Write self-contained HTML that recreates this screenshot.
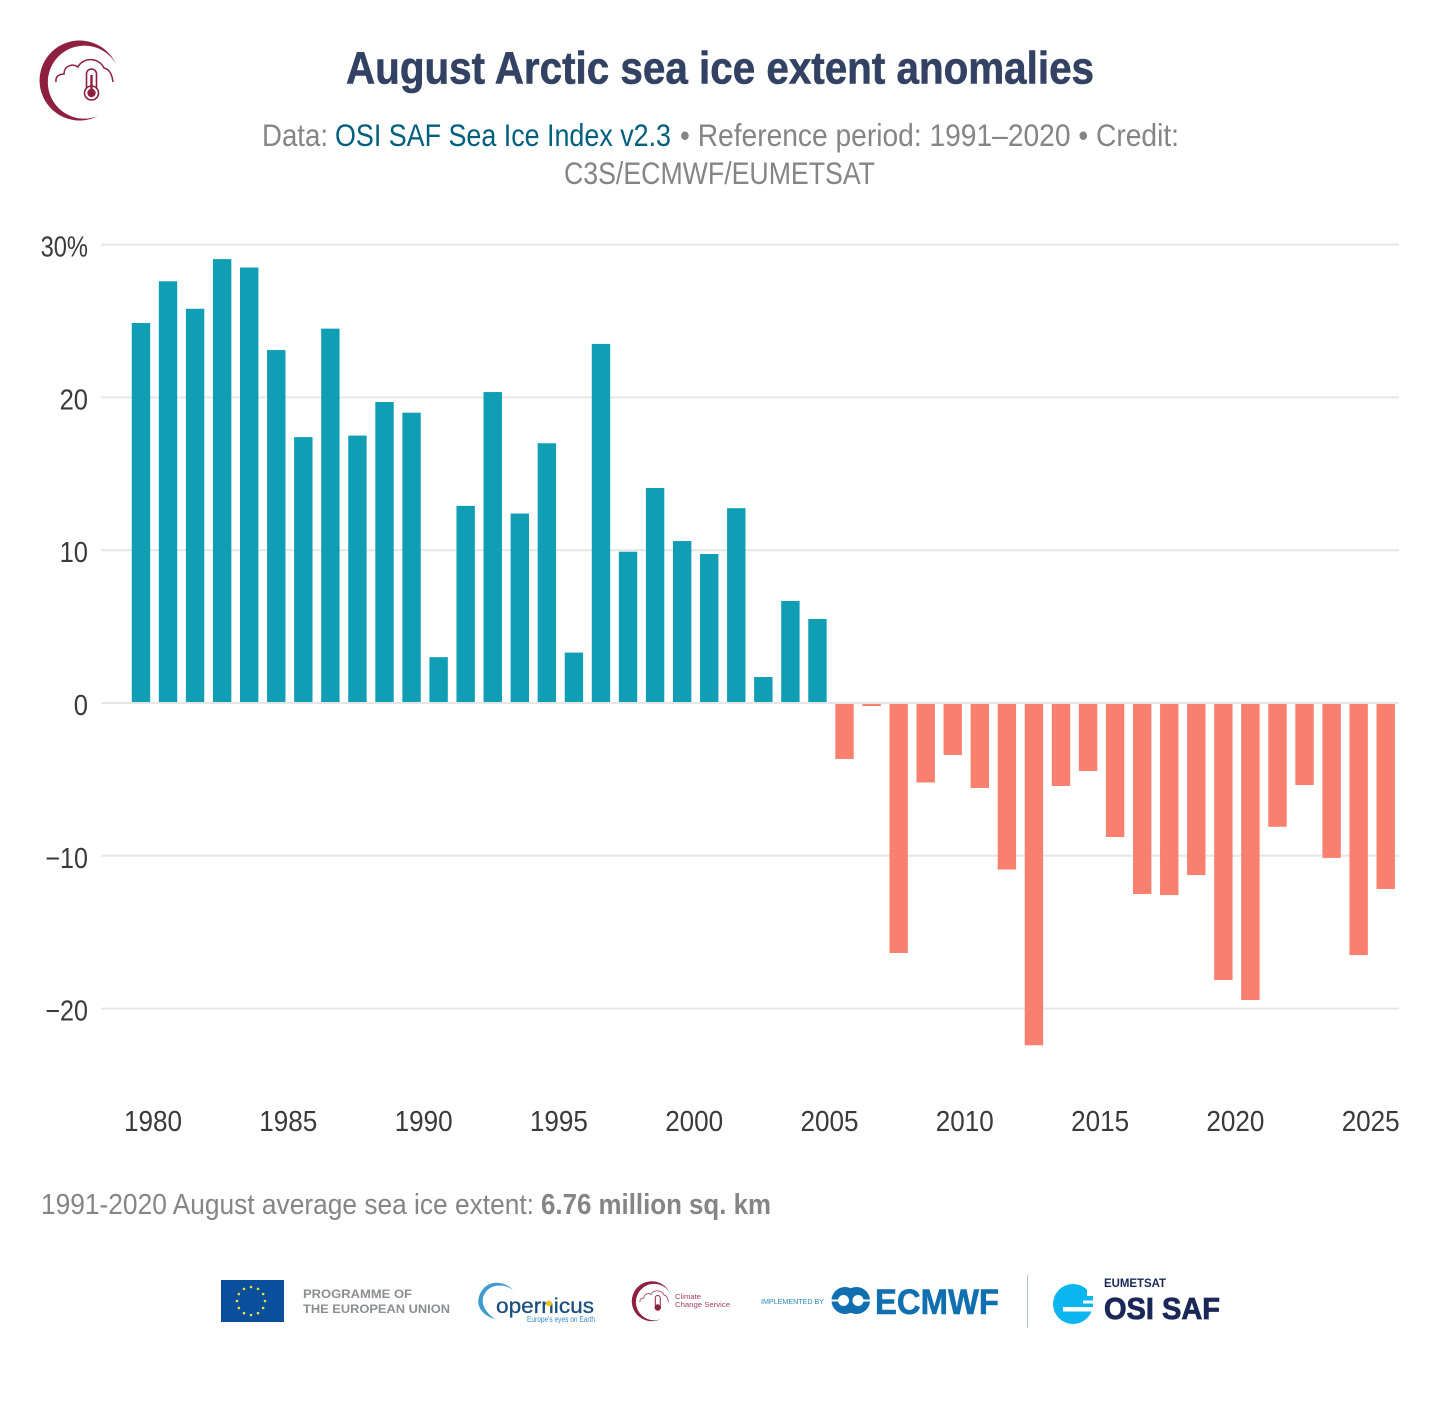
<!DOCTYPE html>
<html lang="en">
<head>
<meta charset="utf-8">
<title>August Arctic sea ice extent anomalies</title>
<style>
html,body{margin:0;padding:0;background:#fff;}
svg{display:block;font-family:"Liberation Sans",sans-serif;}
</style>
</head>
<body>
<svg id="chart" xmlns="http://www.w3.org/2000/svg" width="1440" height="1404" viewBox="0 0 1440 1404">
  <rect width="1440" height="1404" fill="#fff"/>

  <g>
    <path d="M116 64 A40 40 0 1 0 98 116 A36.500 36.500 0 1 1 116 64 Z" fill="#8e1f3f"/>
    <path d="M56 82 C55 76 60 74 64 74 C64 66 72 63 78 67 C82 58 98 56 104 68 C109 69 112 74 113 82" fill="none" stroke="#8e1f3f" stroke-width="1.5"/>
    <rect x="86.500" y="69" width="10" height="24" rx="5" fill="#fff" stroke="#8e1f3f" stroke-width="1.600"/>
    <circle cx="91.500" cy="93" r="7" fill="#fff" stroke="#8e1f3f" stroke-width="1.600"/>
    <circle cx="91.500" cy="93" r="4.200" fill="#8e1f3f"/>
    <rect x="90.300" y="75" width="2.400" height="16" fill="#8e1f3f"/>
  </g>

  <text x="346" y="83.500" font-size="45" font-weight="700" fill="#334263" stroke="#334263" stroke-width="0.600" textLength="748" lengthAdjust="spacingAndGlyphs">August Arctic sea ice extent anomalies</text>

  <g font-size="31.500" fill="#858585">
    <text x="262" y="146" textLength="66" lengthAdjust="spacingAndGlyphs">Data:</text>
    <text x="335" y="146" fill="#005f7d" textLength="336" lengthAdjust="spacingAndGlyphs">OSI SAF Sea Ice Index v2.3</text>
    <text x="680" y="146" textLength="499" lengthAdjust="spacingAndGlyphs">• Reference period: 1991–2020 • Credit:</text>
    <text x="564" y="184" textLength="311" lengthAdjust="spacingAndGlyphs">C3S/ECMWF/EUMETSAT</text>
  </g>

  <g id="grid"></g>
  <g id="bars"></g>
  <g id="zero"></g>
  <g id="ylabels"></g>
  <g id="xlabels"></g>

  <g font-size="28.500" fill="#858585">
    <text x="41" y="1214" textLength="493" lengthAdjust="spacingAndGlyphs">1991-2020 August average sea ice extent:</text>
    <text x="541" y="1214" font-weight="700" textLength="230" lengthAdjust="spacingAndGlyphs">6.76 million sq. km</text>
  </g>

  <g>
    <rect x="221" y="1280" width="63" height="42" fill="#0a4f9c"/>
    <g id="eustars"></g>
    <text x="303" y="1298" font-size="12" font-weight="700" fill="#8b8e91" textLength="109" lengthAdjust="spacingAndGlyphs">PROGRAMME OF</text>
    <text x="303" y="1313" font-size="12" font-weight="700" fill="#8b8e91" textLength="147" lengthAdjust="spacingAndGlyphs">THE EUROPEAN UNION</text>
  </g>

  <g>
    <path d="M513 1290 C505 1281 488 1279 481 1292 C474 1304 481 1315 495 1319 C486 1313 480 1304 484 1295 C489 1284 504 1283 513 1290 Z" fill="#3f9bd0"/>
    <text x="496" y="1313" font-size="21.500" fill="#1c4f80" stroke="#1c4f80" stroke-width="0.300" textLength="98" lengthAdjust="spacingAndGlyphs">opernicus</text>
    <circle cx="549" cy="1303.500" r="3" fill="#f3c51c"/>
    <text x="527" y="1322" font-size="8.500" fill="#3a88bf" textLength="68" lengthAdjust="spacingAndGlyphs">Europe's eyes on Earth</text>
  </g>

  <g>
    <g transform="translate(612,1261) scale(.5)">
      <path d="M116 64 A40 40 0 1 0 98 116 A36.500 36.500 0 1 1 116 64 Z" fill="#8e1f3f"/>
      <path d="M56 82 C55 76 60 74 64 74 C64 66 72 63 78 67 C82 58 98 56 104 68 C109 69 112 74 113 82" fill="none" stroke="#a64a64" stroke-width="1.800"/>
      <rect x="86.500" y="69" width="10" height="24" rx="5" fill="#fff" stroke="#8e1f3f" stroke-width="2"/>
      <circle cx="91.500" cy="93" r="6.500" fill="#8e1f3f"/>
    </g>
    <text x="675" y="1299" font-size="7.500" fill="#a5405c" textLength="26" lengthAdjust="spacingAndGlyphs">Climate</text>
    <text x="675" y="1307" font-size="7.500" fill="#a5405c" textLength="55" lengthAdjust="spacingAndGlyphs">Change Service</text>
  </g>

  <g>
    <text x="761" y="1304" font-size="7" fill="#2d88c2" textLength="63" lengthAdjust="spacingAndGlyphs">IMPLEMENTED BY</text>
    <circle cx="845" cy="1300.500" r="13.500" fill="#0f6fb0"/>
    <circle cx="856.500" cy="1300.500" r="13.500" fill="#0f6fb0"/>
    <circle cx="843.500" cy="1300.500" r="5.500" fill="#fff"/>
    <circle cx="858" cy="1300.500" r="5.500" fill="#fff"/>
    <rect x="831" y="1299.500" width="13" height="2" fill="#fff"/>
    <rect x="858" y="1299.500" width="13" height="2" fill="#fff"/>
    <text x="875" y="1314" font-size="35" font-weight="700" fill="#0f6fb0" stroke="#0f6fb0" stroke-width="0.600" textLength="124" lengthAdjust="spacingAndGlyphs">ECMWF</text>
  </g>

  <rect x="1027" y="1275" width="1" height="53" fill="#b7c3cf"/>

  <g>
    <circle cx="1073" cy="1304" r="20" fill="#0bb5ef"/>
    <rect x="1087" y="1282" width="10" height="14" fill="#fff"/>
    <rect x="1083" y="1296" width="10" height="4.500" fill="#0bb5ef"/>
    <rect x="1083" y="1300.500" width="14" height="3" fill="#fff"/>
    <rect x="1080" y="1303.500" width="13" height="3.500" fill="#0bb5ef"/>
    <rect x="1063" y="1307" width="34" height="4.500" fill="#fff"/>
    <text x="1104" y="1287" font-size="12" font-weight="700" fill="#1a2858" textLength="62" lengthAdjust="spacingAndGlyphs">EUMETSAT</text>
    <text x="1104" y="1319" font-size="31" font-weight="700" fill="#1a2858" stroke="#1a2858" stroke-width="0.800" textLength="116" lengthAdjust="spacingAndGlyphs">OSI SAF</text>
  </g>
</svg>
<script>
var years = [1979,1980,1981,1982,1983,1984,1985,1986,1987,1988,1989,1990,1991,1992,1993,1994,1995,1996,1997,1998,1999,2000,2001,2002,2003,2004,2005,2006,2007,2008,2009,2010,2011,2012,2013,2014,2015,2016,2017,2018,2019,2020,2021,2022,2023,2024,2025];
var anomalies = [24.87,27.6,25.8,29.05,28.5,23.1,17.4,24.5,17.5,19.7,19.0,3.0,12.9,20.35,12.4,17.0,3.3,23.5,9.9,14.07,10.6,9.75,12.75,1.7,6.68,5.5,-3.66,-0.2,-16.36,-5.2,-3.4,-5.56,-10.9,-22.4,-5.43,-4.45,-8.77,-12.5,-12.57,-11.26,-18.13,-19.44,-8.1,-5.37,-10.14,-16.5,-12.17];
var yTicks = [30,20,10,0,-10,-20];
var yTickLabels = ["30%","20","10","0","−10","−20"];
var xTicks = [1980,1985,1990,1995,2000,2005,2010,2015,2020,2025];

var NS = "http://www.w3.org/2000/svg";
var BAR_COLOR_POS = "#109eb4";
var BAR_COLOR_NEG = "#f97f6e";
var BAR_WIDTH = 18.4;

function yScale(v) { return 703 - v * 15.28; }
function xScale(yr) { return 153 + (yr - 1980) * 27.06; }
function barCenter(yr) { return xScale(yr + 0.555); }

function svgEl(tag, parent) {
  var el = document.createElementNS(NS, tag);
  document.getElementById(parent).appendChild(el);
  return el;
}
function tickWidth(label) {
  var w = 0;
  for (var c = 0; c < label.length; c++) {
    w += label[c] === "%" ? 19 : 14.2;
  }
  return w;
}

yTicks.forEach(function (t, i) {
  var line = svgEl("line", t === 0 ? "zero" : "grid");
  
  
  line.setAttribute("x1", 101);
  line.setAttribute("x2", 1399);
  line.setAttribute("y1", yScale(t));
  line.setAttribute("y2", yScale(t));
  line.setAttribute("stroke", "#e6e6e6");
  line.setAttribute("stroke-width", 2);

  var label = svgEl("text", "ylabels");
  
  
  label.textContent = yTickLabels[i];
  label.setAttribute("x", 88);
  label.setAttribute("y", yScale(t) + 12);
  label.setAttribute("text-anchor", "end");
  label.setAttribute("font-size", 28.5);
  label.setAttribute("fill", "#3a3a3a");
  label.setAttribute("textLength", tickWidth(yTickLabels[i]).toFixed(1));
  label.setAttribute("lengthAdjust", "spacingAndGlyphs");
});

years.forEach(function (yr, i) {
  var v = anomalies[i];
  var bar = svgEl("rect", "bars");
  
  
  bar.setAttribute("x", barCenter(yr) - BAR_WIDTH / 2);
  bar.setAttribute("width", BAR_WIDTH);
  bar.setAttribute("y", Math.min(yScale(v), yScale(0)));
  bar.setAttribute("height", Math.abs(yScale(v) - yScale(0)));
  bar.setAttribute("fill", v >= 0 ? BAR_COLOR_POS : BAR_COLOR_NEG);
});

xTicks.forEach(function (yr) {
  var label = svgEl("text", "xlabels");
  
  
  label.textContent = String(yr);
  label.setAttribute("x", xScale(yr));
  label.setAttribute("y", 1131);
  label.setAttribute("text-anchor", "middle");
  label.setAttribute("font-size", 28.5);
  label.setAttribute("fill", "#3a3a3a");
  label.setAttribute("textLength", 58);
  label.setAttribute("lengthAdjust", "spacingAndGlyphs");
});

for (var s = 0; s < 12; s++) {
  var star = svgEl("circle", "eustars");
  
  
  star.setAttribute("cx", 251 + 14 * Math.cos(s * Math.PI / 6));
  star.setAttribute("cy", 1301 + 14 * Math.sin(s * Math.PI / 6));
  star.setAttribute("r", 1.3);
  star.setAttribute("fill", "#f5e03a");
}
</script>
</body>
</html>
